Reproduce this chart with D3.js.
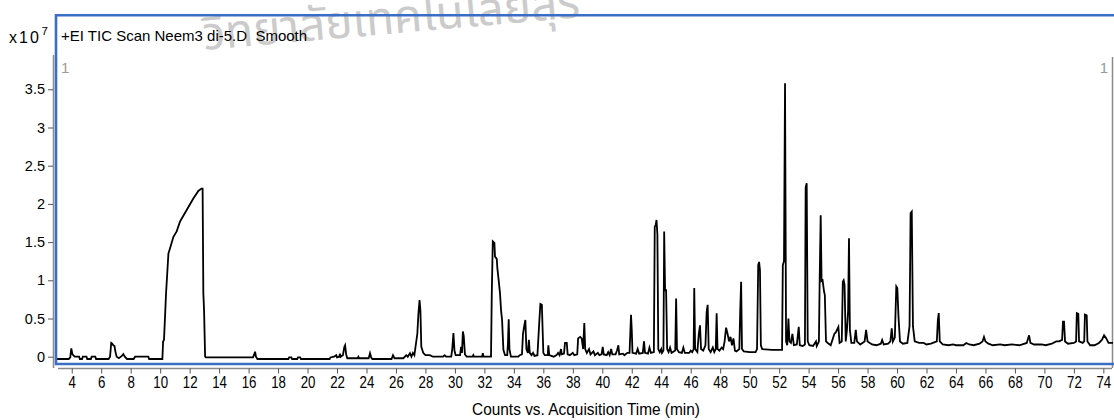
<!DOCTYPE html>
<html lang="en">
<head>
<meta charset="UTF-8">
<title>TIC Scan Neem3</title>
<script src="https://cdn.jsdelivr.net/npm/d3@7"></script>
<style>
    body { margin: 0; background: #ffffff; }
    text { font-family: "Liberation Sans", Arial, sans-serif; }
</style>
</head>
<body>
<svg id="mainsvg" width="1114" height="420"></svg>
<script>
    // chart values (counts in units of 1e7, time in min)
    const xTicks = [4,6,8,10,12,14,16,18,20,22,24,26,28,30,32,34,36,38,40,42,44,46,48,50,52,54,56,58,60,62,64,66,68,70,72,74];
    const yTicks = [0,0.5,1,1.5,2,2.5,3,3.5];

    const traceEarly = [
        [2.95,-0.03],[3.8,-0.03],[3.9,-0.01],[3.97,0.11],[4.05,0.03],[4.2,0.0],[4.5,0.0],[4.55,-0.03],[4.7,-0.03],
        [4.75,0.0],[5.0,0.0],[5.05,-0.03],[5.3,-0.03],[5.35,0.0],[5.6,0.0],[5.65,-0.03],[6.5,-0.03],[6.6,0.0],
        [6.68,0.18],[6.75,0.17],[6.82,0.15],[6.9,0.14],[6.97,0.06],[7.05,0.0],[7.2,-0.02],[7.4,0.01],[7.5,0.035],
        [7.6,0.0],[7.75,-0.03],[8.2,-0.03],[8.3,0.0],[9.2,0.0],[9.25,-0.03],[10.15,-0.03],[10.2,0.2],[10.26,0.22],
        [10.4,0.83],[10.56,1.35],[10.67,1.42],[10.9,1.57],[11.12,1.64],[11.35,1.77],[11.8,1.92],[12.25,2.07],
        [12.59,2.17],[12.8,2.2],[12.88,2.2],[12.93,0.83],[12.98,0.6],[13.05,0.0],[13.1,-0.01],[16.3,-0.01],
        [16.38,0.03],[16.44,0.065],[16.5,0.0],[16.6,-0.03],[18.7,-0.03],[18.75,-0.01],[18.9,-0.01],[18.95,-0.03],
        [19.3,-0.03],[19.35,-0.01],[19.5,-0.01],[19.55,-0.03],[21.5,-0.03],[21.55,-0.01],[21.8,0.0],[21.95,0.02],
        [22.0,-0.01],[22.15,0.0],[22.2,0.04],[22.25,0.0],[22.4,0.02],[22.5,0.13],[22.55,0.15],[22.62,0.03],
        [22.7,-0.02],[23.4,-0.02],[23.45,0.0],[23.5,-0.02],[24.15,-0.02],[24.24,0.045],[24.32,-0.01],[24.4,-0.03],
        [25.7,-0.03],[25.8,0.02],[25.9,-0.02],[26.5,-0.02],[26.7,0.02],[26.8,0.0],[26.95,0.045],[27.05,0.0],
        [27.15,0.05],[27.25,0.02],[27.45,0.3],[27.52,0.55],[27.6,0.74],[27.66,0.6],[27.72,0.13],[27.85,0.05],
        [28.0,0.02],[28.3,0.02],[28.5,0.0]
    ];

    const traceMid = [
        [29.2,0.0],[29.3,0.02],[29.4,0.0],[29.75,0.0],[29.82,0.1],[29.9,0.31],[29.97,0.08],[30.05,0.02],[30.35,0.02],
        [30.42,0.13],[30.48,0.05],[30.54,0.33],[30.6,0.27],[30.68,0.03],[30.8,0.0],[31.2,0.0],[31.25,0.02],[31.3,0.0],
        [31.85,0.0],[31.89,0.045],[31.95,0.0],[32.45,0.0],[32.5,0.8],[32.57,1.51],[32.68,1.49],[32.72,1.31],
        [32.84,1.28],[32.88,1.16],[32.97,1.0],[33.06,0.83],[33.13,0.61],[33.2,0.48],[33.29,0.09],[33.4,0.02],
        [33.55,0.02],[33.6,0.18],[33.65,0.49],[33.7,0.1],[33.8,0.0],[34.3,0.0],[34.4,0.02],[34.55,0.03],[34.62,0.3],
        [34.7,0.4],[34.78,0.48],[34.85,0.1],[34.95,0.05],[35.02,0.22],[35.08,0.05],[35.2,0.02],[35.3,0.05],[35.4,0.01],
        [35.6,0.02],[35.72,0.44],[35.8,0.69],[35.9,0.68],[35.96,0.3],[36.0,0.05],[36.1,0.02],[36.3,0.02],[36.34,0.15],
        [36.4,0.02],[36.7,0.0],[36.9,0.02],[37.0,0.05],[37.1,0.02],[37.2,0.1],[37.25,0.03],[37.4,0.04],[37.47,0.18],
        [37.59,0.18],[37.65,0.03],[37.8,0.02],[38.0,0.05],[38.1,0.02],[38.3,0.03],[38.36,0.24],[38.5,0.26],[38.6,0.24],
        [38.7,0.1],[38.78,0.44],[38.84,0.1],[38.95,0.05],[39.1,0.1],[39.2,0.03],[39.4,0.07],[39.5,0.02],[39.7,0.05],
        [39.8,0.02],[39.95,0.03],[40.03,0.13],[40.1,0.03],[40.3,0.02],[40.4,0.06],[40.5,0.02],[40.6,0.1],[40.68,0.03],
        [40.9,0.03],[41.0,0.08],[41.09,0.15],[41.15,0.03],[41.4,0.04],[41.5,0.02],[41.7,0.05],[41.85,0.05],[41.9,0.3],
        [41.95,0.55],[42.0,0.35],[42.05,0.05]
    ];

    const traceLate = [
        [42.3,0.04],[42.4,0.1],[42.5,0.04],[42.75,0.05],[42.83,0.2],[42.9,0.05],[43.1,0.04],[43.2,0.12],[43.3,0.05],
        [43.5,0.06],[43.56,1.7],[43.62,1.72],[43.68,1.79],[43.74,1.6],[43.8,0.1],[43.9,0.06],[44.0,0.1],[44.05,0.05],
        [44.15,0.08],[44.2,1.64],[44.26,0.87],[44.33,0.87],[44.4,0.1],[44.5,0.06],[44.6,0.12],[44.7,0.05],[44.95,0.08],
        [45.01,0.76],[45.07,0.1],[45.2,0.06],[45.4,0.05],[45.5,0.12],[45.6,0.05],[45.9,0.05],[46.0,0.08],[46.1,0.06],
        [46.2,0.1],[46.24,0.9],[46.3,0.1],[46.45,0.06],[46.55,0.3],[46.63,0.41],[46.7,0.1],[46.85,0.08],[47.0,0.15],
        [47.08,0.58],[47.15,0.68],[47.22,0.1],[47.35,0.06],[47.5,0.12],[47.6,0.06],[47.7,0.1],[47.76,0.57],[47.82,0.1],
        [47.95,0.08],[48.1,0.12],[48.2,0.1],[48.3,0.2],[48.4,0.38],[48.5,0.3],[48.6,0.2],[48.7,0.26],[48.8,0.15],
        [48.9,0.24],[49.0,0.08],[49.1,0.07],[49.3,0.1],[49.36,0.6],[49.42,0.98],[49.48,0.1],[49.6,0.07],[50.0,0.06],
        [50.4,0.06],[50.5,0.1],[50.58,1.2],[50.64,1.24],[50.7,1.13],[50.76,0.15],[50.85,0.1],[51.5,0.09],[52.2,0.09],
        [52.25,1.2],[52.33,1.25],[52.4,3.58],[52.47,0.2],[52.55,0.15],[52.63,0.5],[52.7,0.2],[52.8,0.18],[52.9,0.3],
        [53.0,0.15],[53.2,0.16],[53.33,0.39],[53.4,0.15],[53.6,0.14],[53.75,0.16],[53.8,2.22],[53.87,2.27],[53.94,0.2],
        [54.05,0.15],[54.3,0.14],[54.5,0.2],[54.55,0.14],[54.7,0.2],[54.75,1.0],[54.82,1.85],[54.88,0.99],[54.95,1.0],
        [55.05,0.85],[55.1,0.81],[55.18,0.2],[55.3,0.18],[55.5,0.15],[55.75,0.3],[55.85,0.32],[56.02,0.39],[56.1,0.18],
        [56.25,0.2],[56.32,0.98],[56.38,1.0],[56.44,0.94],[56.52,0.2],[56.6,0.35],[56.68,0.6],[56.74,1.55],[56.8,0.35],
        [56.9,0.18],[57.1,0.18],[57.2,0.35],[57.28,0.2],[57.5,0.16],[57.8,0.2],[57.9,0.35],[58.0,0.2],[58.3,0.16],
        [58.6,0.15],[58.9,0.17],[58.99,0.22],[59.1,0.16],[59.4,0.17],[59.55,0.2],[59.64,0.37],[59.72,0.2],[59.85,0.25],
        [59.95,0.92],[60.02,0.9],[60.1,0.52],[60.2,0.2],[60.4,0.17],[60.7,0.18],[60.85,0.4],[60.92,1.88],[61.0,1.9],
        [61.08,0.4],[61.2,0.2],[61.5,0.18],[61.8,0.18],[62.0,0.16],[62.3,0.17],[62.7,0.2],[62.77,0.48],[62.83,0.57],
        [62.9,0.2],[63.1,0.16],[63.5,0.15],[63.8,0.16],[64.0,0.15],[64.5,0.15],[64.7,0.18],[64.9,0.16],[65.2,0.15],
        [65.6,0.17],[65.8,0.2],[65.9,0.26],[66.0,0.2],[66.2,0.17],[66.5,0.15],[67.0,0.16],[67.3,0.15],[67.8,0.16],
        [68.3,0.15],[68.8,0.18],[68.96,0.28],[69.05,0.18],[69.3,0.16],[69.8,0.16],[70.1,0.15],[70.5,0.17],[70.8,0.2],
        [71.0,0.2],[71.2,0.22],[71.26,0.46],[71.33,0.46],[71.4,0.2],[71.6,0.17],[72.0,0.18],[72.15,0.2],[72.2,0.57],
        [72.3,0.56],[72.35,0.2],[72.6,0.18],[72.7,0.2],[72.75,0.55],[72.87,0.54],[72.92,0.2],[73.1,0.15],[73.4,0.15],
        [73.7,0.18],[73.9,0.22],[74.05,0.28],[74.2,0.24],[74.35,0.18],[74.7,0.18]
    ];

    const svg = d3.select('#mainsvg');
    const blue = '#3b6dc5';

    const x = d3.scaleLinear().domain([3, 74.6]).range([57, 1112.2]);
    const y = d3.scaleLinear().domain([0, 3.5]).range([356.7, 89.3]);

    // watermark
    svg.append('text')
        .attr('transform', 'translate(204,50) rotate(-5)')
        .attr('font-size', 46)
        .style('font-family', '"Noto Sans Thai", "Noto Sans", "DejaVu Sans", sans-serif')
        .attr('fill', '#cbcbcb')
        .text('วิทยาลัยเทคโนโลยีสุร');

    // gray inner frame
    svg.append('line').attr('x1', 53.5).attr('x2', 53.5).attr('y1', 55).attr('y2', 368)
        .attr('stroke', '#8a8a8a').attr('stroke-width', 1.5);
    svg.append('line').attr('x1', 1112.5).attr('x2', 1112.5).attr('y1', 57).attr('y2', 368)
        .attr('stroke', '#8a8a8a').attr('stroke-width', 1.5);

    // axes
    const xAxis = svg.append('g')
        .attr('transform', 'translate(0,368.5)')
        .call(d3.axisBottom(x).tickValues(xTicks).tickSize(5).tickPadding(3).tickFormat(d => d));
    xAxis.select('.domain').attr('stroke', '#8a8a8a').attr('stroke-width', 1.5)
        .attr('d', `M${58},0H${1112}`);
    xAxis.selectAll('.tick line').attr('stroke', '#555');
    xAxis.selectAll('text')
        .attr('font-size', 16)
        .attr('fill', '#000')
        .attr('transform', 'scale(0.83,1)');

    const yAxis = svg.append('g')
        .attr('transform', 'translate(53,0)')
        .call(d3.axisLeft(y).tickValues(yTicks).tickSize(5).tickPadding(3).tickFormat(d => String(d)));
    yAxis.select('.domain').remove();
    yAxis.selectAll('.tick line').attr('stroke', '#555');
    yAxis.selectAll('text').attr('font-size', 14.5).attr('fill', '#000');

    // trace
    svg.append('clipPath').attr('id', 'plotclip')
        .append('rect').attr('x', 57).attr('y', 17).attr('width', 1056).attr('height', 346);

    const trace = traceEarly.concat(traceMid, traceLate);
    const line = d3.line().x(d => x(d[0])).y(d => y(d[1]));
    svg.append('path')
        .datum(trace)
        .attr('clip-path', 'url(#plotclip)')
        .attr('fill', 'none')
        .attr('stroke', '#000')
        .attr('stroke-width', 1.8)
        .attr('stroke-linejoin', 'miter')
        .attr('d', line);

    // blue frame
    svg.append('path')
        .attr('d', 'M1116,15.3H56V364H1116')
        .attr('fill', 'none')
        .attr('stroke', blue)
        .attr('stroke-width', 2.6);

    // labels
    svg.append('text').attr('x', 9).attr('y', 43).attr('font-size', 16)
        .attr('textLength', 30).attr('lengthAdjust', 'spacing').text('x10');
    svg.append('text').attr('x', 41.5).attr('y', 35).attr('font-size', 11.5).text('7');
    svg.append('text').attr('x', 61).attr('y', 41).attr('font-size', 15)
        .style('white-space', 'pre').text('+EI TIC Scan Neem3 di-5.D  Smooth');
    svg.append('text').attr('x', 61).attr('y', 73).attr('font-size', 15).attr('fill', '#999').text('1');
    svg.append('text').attr('x', 1108).attr('y', 73).attr('font-size', 15).attr('fill', '#999')
        .attr('text-anchor', 'end').text('1');
    svg.append('text').attr('x', 586).attr('y', 415).attr('font-size', 17)
        .attr('text-anchor', 'middle')
        .attr('textLength', 228).attr('lengthAdjust', 'spacingAndGlyphs')
        .text('Counts vs. Acquisition Time (min)');
</script>
</body>
</html>
